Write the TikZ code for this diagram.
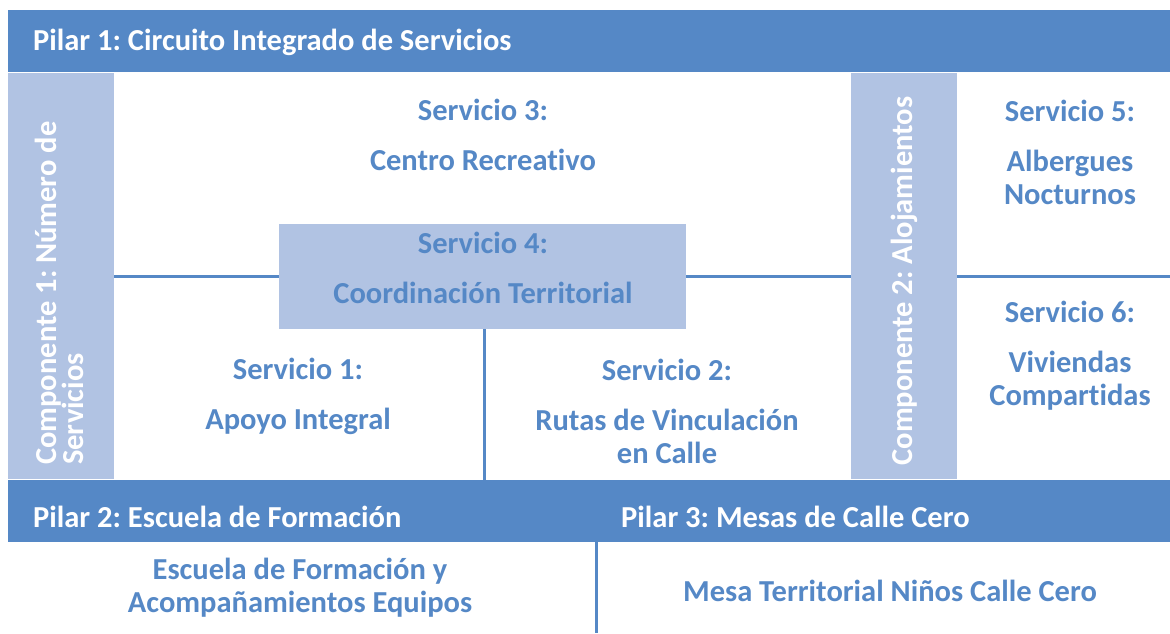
\documentclass[tikz,border=0pt]{standalone}
\usepackage{fontspec}
\setmainfont{Carlito}[Ligatures={NoCommon}]
\frenchspacing
\definecolor{dkblue}{HTML}{5588C6}
\definecolor{ltblue}{HTML}{B1C3E3}
\begin{document}
\begin{tikzpicture}[x=1pt,y=-1pt,
  bar/.style={fill=dkblue,draw=none},
  strip/.style={fill=ltblue,draw=none},
  rule/.style={draw=dkblue,line width=3pt},
  bartext/.style={text=white,font=\bfseries\fontsize{30.5}{33}\selectfont,anchor=west,inner sep=0pt},
  stripttext/.style={text=white,font=\bfseries\fontsize{30.5}{27}\selectfont,inner sep=0pt,rotate=90,align=left},
  svc/.style={text=dkblue,font=\bfseries\fontsize{30.5}{33}\selectfont,align=center,inner sep=0pt}]
\useasboundingbox (0,0) rectangle (1170,633);
% bars and strips
\node[bar,minimum width=1162pt,minimum height=62pt,anchor=north west,inner sep=0pt] (p1bar) at (8,10) {};
\node[bar,minimum width=1162pt,minimum height=62pt,anchor=north west,inner sep=0pt] (p2bar) at (8,480) {};
\node[strip,minimum width=106pt,minimum height=406pt,anchor=north west,inner sep=0pt] (c1) at (8,73) {};
\node[strip,minimum width=106pt,minimum height=406pt,anchor=north west,inner sep=0pt] (c2) at (851,73) {};
% connectors
\coordinate (rEnd) at (1170,276);
\node[strip,minimum width=407pt,minimum height=105pt,anchor=north west,inner sep=0pt] (s4box) at (279,224) {};
\draw[rule] (c1.east |- 0,276) -- (s4box.west |- 0,276);
\draw[rule] (s4box.east |- 0,276) -- (c2.west |- 0,276);
\draw[rule] (c2.east |- 0,276) -- (rEnd);
\draw[rule] (s4box.south -| 484,0) -- (p2bar.north -| 484,0);
\coordinate (bEnd) at (596,633);
\draw[rule] (p2bar.south -| 596,0) -- (bEnd);
% bar texts
\node[bartext] (p1) at (33,42) {Pilar 1: Circuito Integrado de Servicios};
\node[bartext] (p2) at (33,517) {Pilar 2: Escuela de Formación};
\node[bartext] (p3) at (621,517) {Pilar 3: Mesas de Calle Cero};
% strip texts
\node[stripttext,anchor=west] (c1t) at (59,465) {Componente 1: Número de\\Servicios};
\node[stripttext] (c2t) at (904,281) {Componente 2: Alojamientos};
% services
\node[svc] (s3) at (483,135) {Servicio 3:\\[17pt]Centro Recreativo};
\node[svc] (s4) at (483,268) {Servicio 4:\\[17pt]Coordinación Territorial};
\node[svc] (s1) at (298,396) {Servicio 1:\\[17pt]Apoyo Integral};
\node[svc] (s2) at (667,411) {Servicio 2:\\[17pt]Rutas de Vinculación\\en Calle};
\node[svc] (s5) at (1070,152) {Servicio 5:\\[17pt]Albergues\\Nocturnos};
\node[svc] (s6) at (1070,356) {Servicio 6:\\[17pt]Viviendas\\Compartidas};
\node[svc] (e1) at (300,588) {Escuela de Formación y\\Acompañamientos Equipos};
\node[svc] (m1) at (890,591) {Mesa Territorial Niños Calle Cero};
\end{tikzpicture}
\end{document}
